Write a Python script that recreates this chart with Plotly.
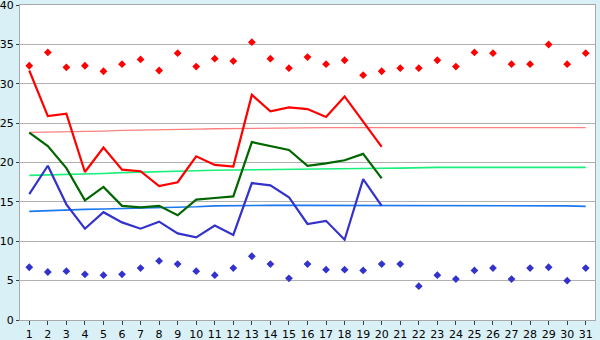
import plotly.graph_objects as go

days = list(range(1, 32))
tick_labels = [str(d) for d in days]

rec_max = [32.3, 34.0, 32.1, 32.3, 31.6, 32.5, 33.1, 31.7, 33.9, 32.2,
           33.2, 32.9, 35.3, 33.2, 32.0, 33.4, 32.5, 33.0, 31.1, 31.6,
           32.0, 32.0, 33.0, 32.2, 34.0, 33.9, 32.5, 32.5, 35.0, 32.5, 33.9]
rec_min = [6.7, 6.1, 6.2, 5.8, 5.7, 5.8, 6.6, 7.5, 7.1, 6.2,
           5.7, 6.6, 8.1, 7.1, 5.3, 7.1, 6.4, 6.4, 6.3, 7.1,
           7.1, 4.3, 5.7, 5.2, 6.3, 6.6, 5.2, 6.6, 6.7, 5.0, 6.6]

cur_days = list(range(1, 21))
cur_max = [31.7, 25.9, 26.2, 18.8, 21.9, 19.1, 18.9, 17.0, 17.5, 20.8,
           19.7, 19.5, 28.6, 26.5, 27.0, 26.8, 25.8, 28.4, 25.2, 22.0]
cur_mean = [23.8, 22.1, 19.3, 15.2, 16.9, 14.5, 14.3, 14.5, 13.3, 15.3,
            15.5, 15.7, 22.6, 22.1, 21.6, 19.6, 19.9, 20.3, 21.1, 18.0]
cur_min = [16.0, 19.6, 14.7, 11.6, 13.7, 12.4, 11.6, 12.5, 11.0, 10.5,
           12.0, 10.8, 17.4, 17.1, 15.6, 12.2, 12.6, 10.2, 17.9, 14.5]

norm_max = [23.84, 23.86, 23.95, 23.97, 24.0, 24.08, 24.1, 24.2, 24.22, 24.25,
            24.3, 24.33, 24.36, 24.42, 24.44, 24.44, 24.44, 24.44, 24.44, 24.44,
            24.44, 24.44, 24.44, 24.44, 24.44, 24.44, 24.44, 24.44, 24.44, 24.44, 24.44]
norm_mean = [18.37, 18.42, 18.55, 18.57, 18.62, 18.72, 18.8, 18.85, 18.9, 18.97,
             19.02, 19.05, 19.07, 19.1, 19.22, 19.25, 19.26, 19.26, 19.27, 19.28,
             19.3, 19.38, 19.39, 19.39, 19.39, 19.39, 19.39, 19.39, 19.39, 19.39, 19.39]
norm_min = [13.8, 13.9, 13.97, 14.05, 14.1, 14.15, 14.2, 14.25, 14.3, 14.38,
            14.5, 14.55, 14.56, 14.56, 14.56, 14.56, 14.56, 14.56, 14.56, 14.56,
            14.56, 14.56, 14.56, 14.56, 14.56, 14.56, 14.56, 14.56, 14.56, 14.5, 14.44]

y_ticks = [0, 5, 10, 15, 20, 25, 30, 35, 40]

RED = "#ff0000"
GREEN = "#006600"
BLUE = "#3333cc"

fig = go.Figure()
fig.add_trace(go.Scatter(x=days, y=norm_max, mode="lines",
                         line=dict(color="#ff8080", width=1.3)))
fig.add_trace(go.Scatter(x=days, y=norm_mean, mode="lines",
                         line=dict(color="#19f07c", width=1.6)))
fig.add_trace(go.Scatter(x=days, y=norm_min, mode="lines",
                         line=dict(color="#1a78f0", width=1.6)))
fig.add_trace(go.Scatter(x=cur_days, y=cur_max, mode="lines",
                         line=dict(color=RED, width=2.2)))
fig.add_trace(go.Scatter(x=cur_days, y=cur_mean, mode="lines",
                         line=dict(color=GREEN, width=2.2)))
fig.add_trace(go.Scatter(x=cur_days, y=cur_min, mode="lines",
                         line=dict(color=BLUE, width=2.2)))
fig.add_trace(go.Scatter(x=days, y=rec_max, mode="markers",
                         marker=dict(symbol="diamond", size=6, color=RED)))
fig.add_trace(go.Scatter(x=days, y=rec_min, mode="markers",
                         marker=dict(symbol="diamond", size=6, color=BLUE)))

fig.update_layout(
    width=600, height=340,
    margin=dict(l=20, r=5, t=5, b=20),
    paper_bgcolor="#d9f0f7",
    plot_bgcolor="#ffffff",
    showlegend=False,
    font=dict(family="DejaVu Sans", size=11, color="#000000"),
)
fig.update_xaxes(
    range=[0.5, 31.5], tickmode="array", tickvals=days, ticktext=tick_labels,
    showgrid=False, zeroline=False, automargin=False, ticklabeloverflow="allow",
    showline=True, linecolor="#a8a8a8", linewidth=1, mirror=True,
    ticks="outside", ticklen=4, tickcolor="#404040", tickfont=dict(size=11),
)
fig.update_yaxes(
    range=[0, 40.02], tickmode="array", tickvals=y_ticks,
    showgrid=True, gridcolor="#b0b0b0", gridwidth=1, zeroline=False, automargin=False,
    ticklabeloverflow="allow",
    showline=True, linecolor="#a8a8a8", linewidth=1, mirror=True,
    ticks="outside", ticklen=3, tickcolor="#404040", tickfont=dict(size=11),
)

fig.write_html("out.html")
